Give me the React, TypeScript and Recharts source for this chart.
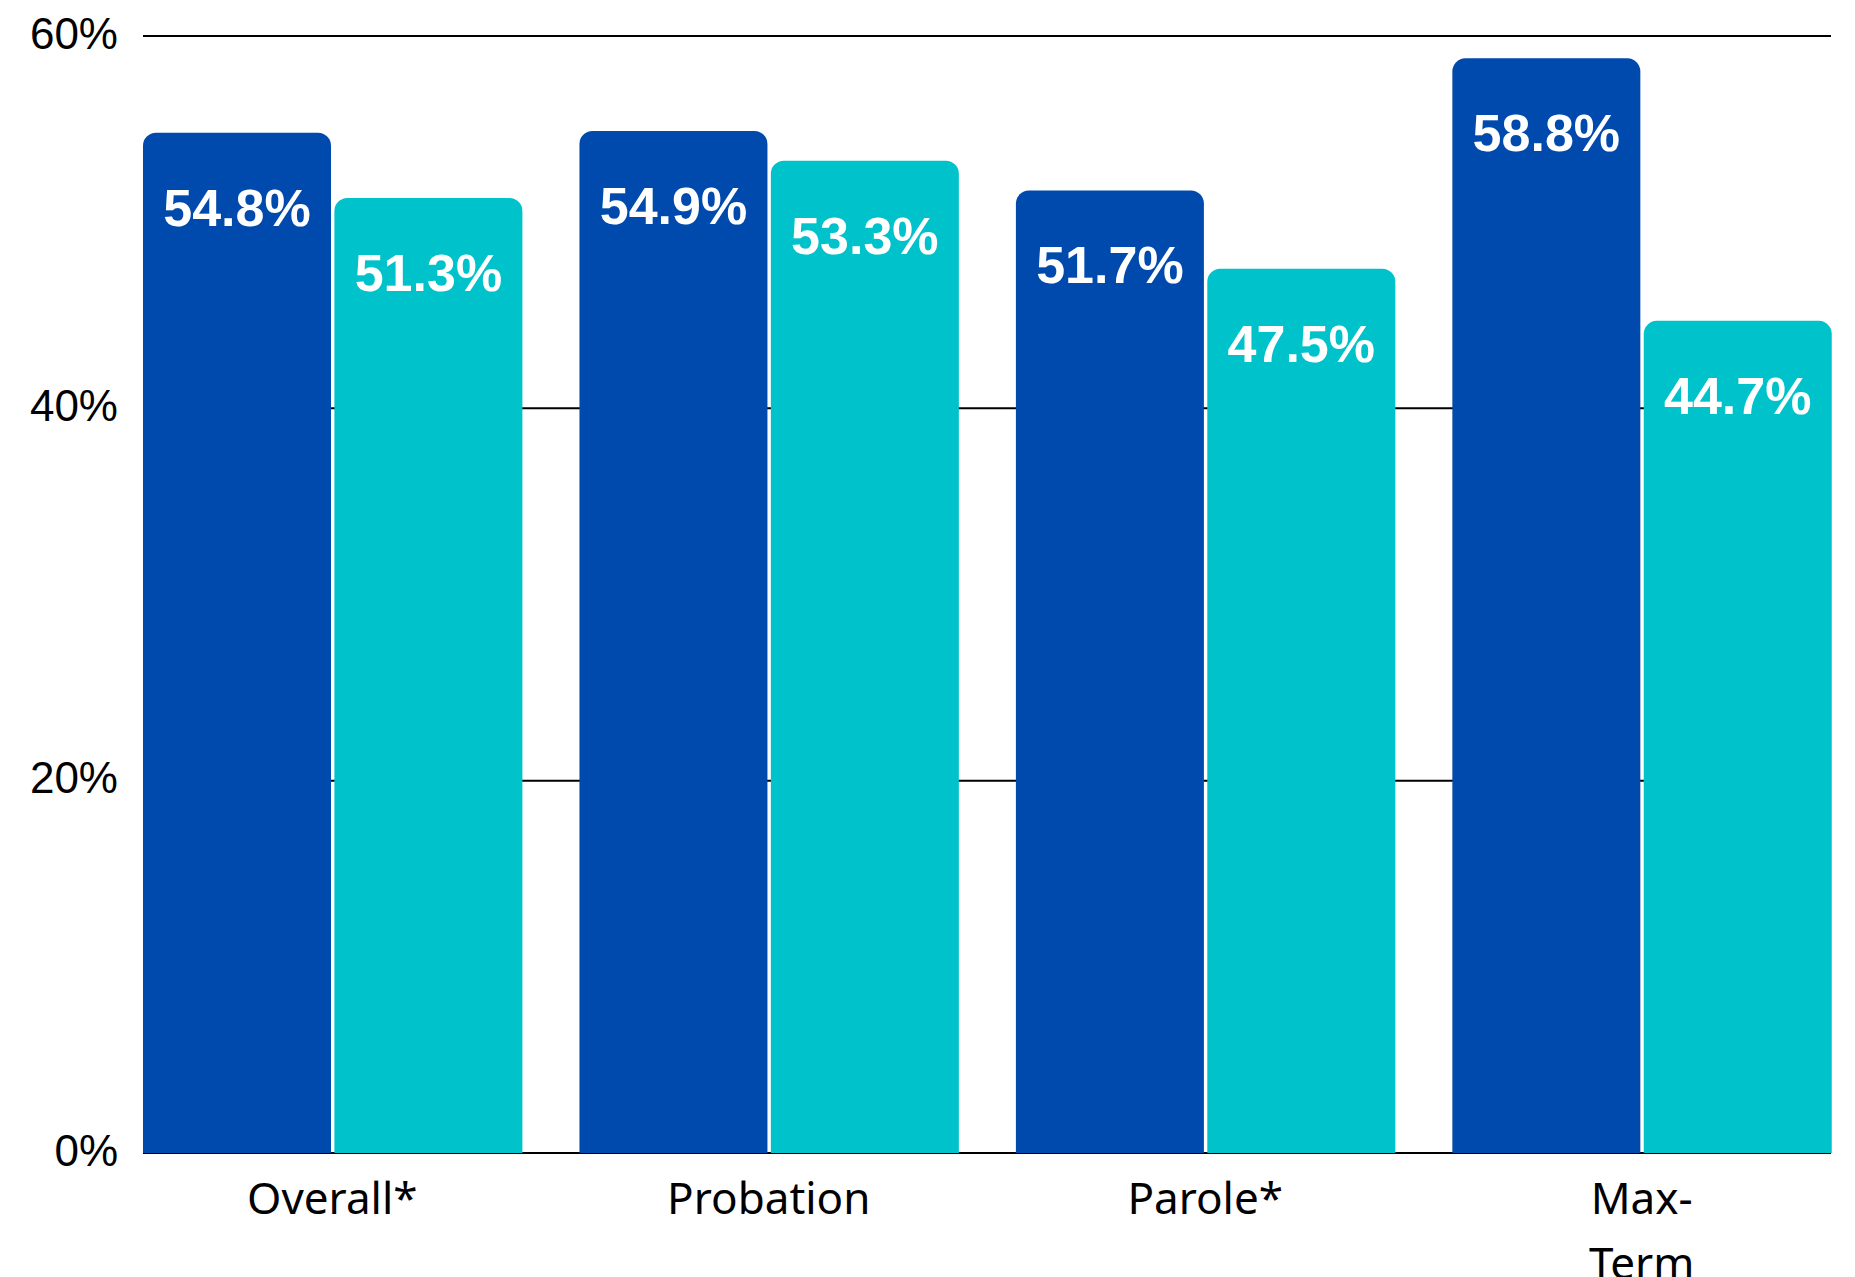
import { Bar, BarChart, CartesianGrid, LabelList, XAxis, YAxis } from 'recharts';

const categories = ['Overall*', 'Probation', 'Parole*', 'Max-Term'];
const seriesA = [54.8, 54.9, 51.7, 58.8];
const seriesB = [51.3, 53.3, 47.5, 44.7];
const yTicks = [0, 20, 40, 60];

const data = categories.map((label, i) => ({ label, a: seriesA[i], b: seriesB[i] }));

const BLUE = '#004AAD';
const CYAN = '#00C2CB';

// x labels wrap after a hyphen ("Max-" / "Term"), like the source
function XTick({ x, y, payload }: any) {
  const parts = String(payload.value).split(/(?<=-)/);
  return (
    <text
      x={x}
      y={y}
      textAnchor="middle"
      fill="#000"
      fontFamily="'Noto Sans', sans-serif"
      fontSize={44}
    >
      {parts.map((p, i) => (
        <tspan key={i} x={x} dy={i === 0 ? 31 : 65}>
          {p}
        </tspan>
      ))}
    </text>
  );
}

function YTick({ x, y, payload }: any) {
  return (
    <text
      x={x}
      y={y + 12.6}
      textAnchor="end"
      fill="#000"
      fontFamily="'Liberation Sans', Arial, sans-serif"
      fontSize={44}
    >
      {`${payload.value}%`}
    </text>
  );
}

const labelProps = {
  position: 'insideTop' as const,
  offset: 56,
  fill: '#fff',
  fontFamily: "'Liberation Sans', Arial, sans-serif",
  fontWeight: 700,
  fontSize: 52,
  formatter: (v: any) => `${Number(v).toFixed(1)}%`,
};

export default function App() {
  return (
    <div style={{ position: 'absolute', left: 0, top: 0 }}>
      <BarChart
        width={1855}
        height={1277}
        data={data}
        margin={{ top: 36, right: 24, bottom: 24, left: 0 }}
        barCategoryGap={28.9}
        barGap={3.4}
      >
        <CartesianGrid vertical={false} stroke="#000" strokeWidth={2} />
        <XAxis
          dataKey="label"
          height={100}
          axisLine={false}
          tickLine={false}
          tickSize={0}
          tickMargin={30}
          padding={{ left: -28.9, right: -28.9 }}
          interval={0}
          tick={<XTick />}
        />
        <YAxis
          width={143}
          domain={[0, 60]}
          ticks={yTicks}
          axisLine={false}
          tickLine={false}
          tickSize={0}
          tickMargin={25}
          tick={<YTick />}
        />
        <Bar dataKey="a" fill={BLUE} radius={[13, 13, 0, 0]} isAnimationActive={false}>
          <LabelList dataKey="a" {...labelProps} />
        </Bar>
        <Bar dataKey="b" fill={CYAN} radius={[13, 13, 0, 0]} isAnimationActive={false}>
          <LabelList dataKey="b" {...labelProps} />
        </Bar>
      </BarChart>
    </div>
  );
}
